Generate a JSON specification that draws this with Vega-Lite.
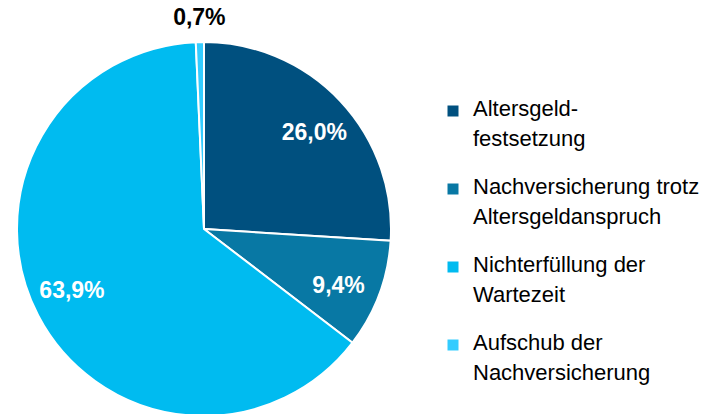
{
  "$schema": "https://vega.github.io/schema/vega-lite/v6.json",
  "autosize": "none",
  "width": 408,
  "height": 458,
  "padding": {"left": 0, "top": 0, "right": 311, "bottom": 0},
  "background": "white",
  "config": {"style": {"guide-label": {"lineHeight": 30, "dy": 5}}},
  "data": {"values": [
    {"idx": 1, "category": "Altersgeld-|festsetzung", "value": 26.0, "label": "26,0%"},
    {"idx": 2, "category": "Nachversicherung trotz|Altersgeldanspruch", "value": 9.4, "label": "9,4%"},
    {"idx": 3, "category": "Nichterfüllung der|Wartezeit", "value": 63.9, "label": "63,9%"},
    {"idx": 4, "category": "Aufschub der|Nachversicherung", "value": 0.7, "label": "0,7%"}
  ]},
  "encoding": {
    "theta": {"field": "value", "type": "quantitative", "stack": true},
    "order": {"field": "idx", "type": "quantitative"},
    "color": {
      "field": "category", "type": "nominal",
      "scale": {
        "domain": ["Altersgeld-|festsetzung", "Nachversicherung trotz|Altersgeldanspruch", "Nichterfüllung der|Wartezeit", "Aufschub der|Nachversicherung"],
        "range": ["#00507F", "#0878A4", "#00BBF0", "#33CCFF"]
      },
      "legend": {
        "orient": "none", "legendX": 442, "legendY": 100,
        "title": null,
        "symbolType": "square", "symbolSize": 121, "symbolStrokeWidth": 0,
        "labelFont": "Liberation Sans", "labelFontSize": 22, "labelColor": "#000000",
        "labelLimit": 400, "labelOffset": 9, "labelBaseline": "alphabetic",
        "labelExpr": "split(datum.label, '|')",
        "rowPadding": 26
      }
    }
  },
  "layer": [
    {"mark": {"type": "arc", "outerRadius": 187, "stroke": "white", "strokeWidth": 2}},
    {
      "mark": {"type": "text", "radius": 146, "thetaOffset": 0.04, "font": "Liberation Sans", "fontSize": 23, "fontWeight": "bold"},
      "encoding": {
        "text": {"condition": {"test": "datum.value > 1", "field": "label"}, "value": ""},
        "color": {"value": "white"}
      }
    },
    {
      "mark": {"type": "text", "radius": 211, "font": "Liberation Sans", "fontSize": 23, "fontWeight": "bold"},
      "encoding": {
        "text": {"condition": {"test": "datum.value < 1", "field": "label"}, "value": ""},
        "color": {"value": "black"}
      }
    }
  ]
}
